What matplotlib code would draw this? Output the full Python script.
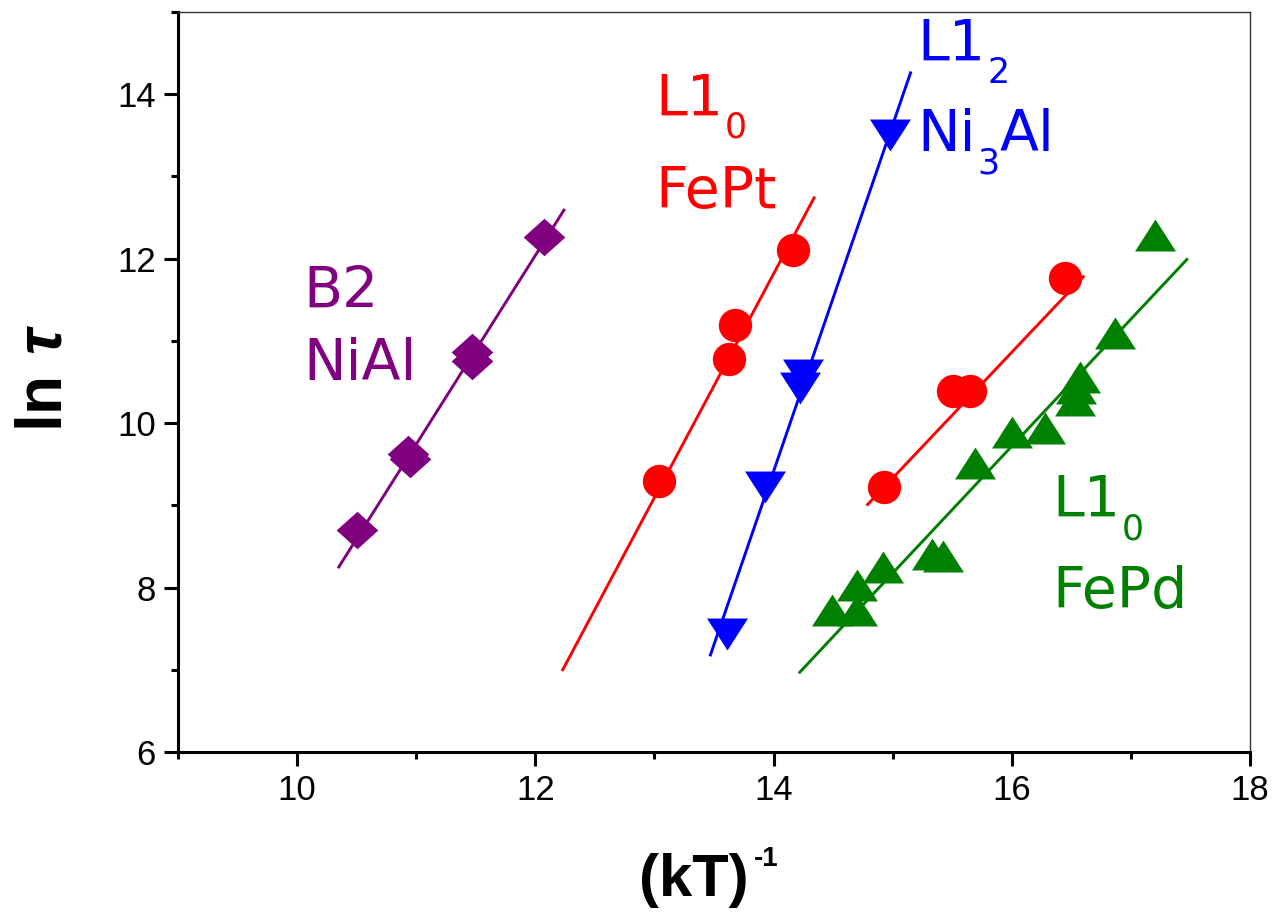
import matplotlib
matplotlib.use("Agg")
import matplotlib.pyplot as plt
import numpy as np

# ---------------- data ----------------
nial_x = [10.50, 10.93, 10.95, 11.47, 11.47, 12.07]
nial_y = [8.70, 9.62, 9.56, 10.86, 10.75, 12.26]
nial_fit_x = [10.35, 12.24]
nial_fit_y = [8.25, 12.59]

fept1_x = [13.04, 13.63, 13.68, 14.16]
fept1_y = [9.29, 10.78, 11.19, 12.11]
fept1_fit_x = [12.23, 14.34]
fept1_fit_y = [7.00, 12.74]

ni3al_x = [13.61, 13.93, 14.22, 14.25, 14.98]
ni3al_y = [7.43, 9.22, 10.43, 10.58, 13.50]
ni3al_fit_x = [13.47, 15.15]
ni3al_fit_y = [7.18, 14.26]

fept2_x = [14.93, 15.51, 15.65, 16.45]
fept2_y = [9.22, 10.39, 10.39, 11.76]
fept2_fit_x = [14.79, 16.60]
fept2_fit_y = [9.01, 11.78]

fepd_x = [14.49, 14.70, 14.70, 14.92, 15.33, 15.42, 15.69, 16.00, 16.28,
          16.53, 16.54, 16.57, 16.87, 17.20]
fepd_y = [7.73, 7.73, 8.03, 8.25, 8.41, 8.38, 9.51, 9.89, 9.94,
          10.28, 10.43, 10.56, 11.09, 12.29]
fepd_fit_x = [14.22, 17.47]
fepd_fit_y = [6.97, 11.99]

x_ticks = [10, 12, 14, 16, 18]
y_ticks = [6, 8, 10, 12, 14]

PURPLE = "#800080"
RED = "#FF0000"
BLUE = "#0000FF"
GREEN = "#008000"

# ---------------- figure ----------------
plt.rcParams["mathtext.fontset"] = "custom"
plt.rcParams["mathtext.bf"] = "Liberation Sans:bold"
plt.rcParams["mathtext.bfit"] = "Liberation Sans:bold:italic"

fig = plt.figure(figsize=(12.74, 9.13), dpi=100)
ax = fig.add_axes([178 / 1274, 1 - 752 / 913, (1250 - 178) / 1274, (752 - 12) / 913])

tri_up = [(-1, -0.78), (1, -0.78), (0, 0.78)]
tri_dn = [(-1, 0.78), (1, 0.78), (0, -0.78)]
diamond = [(-1, 0), (0, 0.9), (1, 0), (0, -0.9)]

LW = 2.1
ax.plot(nial_fit_x, nial_fit_y, color=PURPLE, lw=LW, zorder=2)
ax.plot(nial_x, nial_y, ls="none", marker=diamond, ms=30, color=PURPLE, mew=0, zorder=3)

ax.plot(fept1_fit_x, fept1_fit_y, color=RED, lw=LW, zorder=2)
ax.plot(fept1_x, fept1_y, ls="none", marker="o", ms=24, color=RED, mew=0, zorder=3)

ax.plot(ni3al_fit_x, ni3al_fit_y, color=BLUE, lw=LW, zorder=2)
ax.plot(ni3al_x, ni3al_y, ls="none", marker=tri_dn, ms=29.5, color=BLUE, mew=0, zorder=3)

ax.plot(fept2_fit_x, fept2_fit_y, color=RED, lw=LW, zorder=2)
ax.plot(fept2_x, fept2_y, ls="none", marker="o", ms=24, color=RED, mew=0, zorder=3)

ax.plot(fepd_fit_x, fepd_fit_y, color=GREEN, lw=LW, zorder=2)
ax.plot(fepd_x, fepd_y, ls="none", marker=tri_up, ms=29.5, color=GREEN, mew=0, zorder=3)

ax.set_xlim(9, 18)
ax.set_ylim(6, 15)
ax.set_xticks(x_ticks)
ax.set_yticks(y_ticks)
ax.set_xticks(np.arange(9, 18, 2), minor=True)
ax.set_yticks(np.arange(7, 16, 2), minor=True)

for side in ("left", "bottom"):
    ax.spines[side].set_linewidth(2.2)
for side in ("top", "right"):
    ax.spines[side].set_linewidth(1.0)
    ax.spines[side].set_color("#333333")

ax.tick_params(which="major", direction="out", length=10, width=2.2,
               labelsize=25, pad=6, top=False, right=False)
ax.tick_params(which="minor", direction="out", length=5, width=2.2,
               top=False, right=False)
for lab in ax.get_xticklabels() + ax.get_yticklabels():
    lab.set_family("Liberation Sans")

# axis labels
xl = ax.set_xlabel("(kT)", fontsize=43, fontweight="bold", family="Liberation Sans")
ax.xaxis.set_label_coords((694 - 178) / 1072, -0.136)
ax.annotate("-1", xy=(1.0, 1.0), xycoords=xl, xytext=(4, 5),
            textcoords="offset points", fontsize=20, fontweight="bold",
            family="Liberation Sans", ha="left", va="top")

ax.set_ylabel(r"$\mathbf{ln}\ \mathbfit{\tau}$", fontsize=46,
              family="Liberation Sans", fontweight="bold")
ax.yaxis.set_label_coords(-0.097, 0.505)

# in-plot labels
FS = 41
SUB = 25


def label(pieces, x, y, color):
    """pieces: list of (text, is_subscript)."""
    prev = None
    for txt, sub in pieces:
        size = SUB if sub else FS
        dy = -16 if sub else 0
        if prev is None:
            prev = ax.text(x, y, txt, fontsize=size, color=color,
                           family="DejaVu Sans", ha="left", va="baseline")
        else:
            prev = ax.annotate(txt, xy=(1.0, y), xycoords=(prev, "data"),
                               xytext=(1 if sub else 0, dy), textcoords="offset points",
                               fontsize=size, color=color, family="DejaVu Sans",
                               ha="left", va="baseline")


label([("B2", False)], 10.05, 11.41, PURPLE)
label([("NiAl", False)], 10.05, 10.52, PURPLE)
label([("L1", False), ("0", True)], 13.01, 13.74, RED)
label([("FePt", False)], 13.01, 12.62, RED)
label([("L1", False), ("2", True)], 15.21, 14.41, BLUE)
label([("Ni", False), ("3", True), ("Al", False)], 15.21, 13.31, BLUE)
label([("L1", False), ("0", True)], 16.34, 8.86, GREEN)
label([("FePd", False)], 16.34, 7.75, GREEN)

fig.savefig("out.png", dpi=100)
